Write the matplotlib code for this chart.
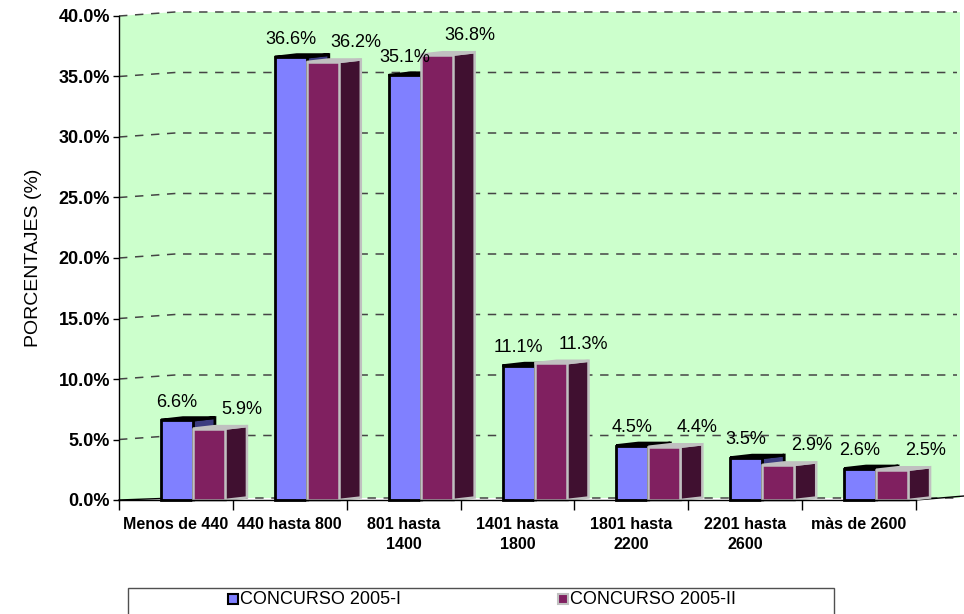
import matplotlib
matplotlib.use("Agg")
import matplotlib.pyplot as plt
from matplotlib.patches import Polygon, Rectangle
from matplotlib.lines import Line2D

plt.rcParams['font.family'] = ['Liberation Sans', 'DejaVu Sans']

categories = ["Menos de 440", "440 hasta 800", "801 hasta\n1400", "1401 hasta\n1800",
              "1801 hasta\n2200", "2201 hasta\n2600", "màs de 2600"]
serie_2005_I = [6.6, 36.6, 35.1, 11.1, 4.5, 3.5, 2.6]
serie_2005_II = [5.9, 36.2, 36.8, 11.3, 4.4, 2.9, 2.5]
series_names = ["CONCURSO 2005-I", "CONCURSO 2005-II"]
yticks = [0, 5, 10, 15, 20, 25, 30, 35, 40]

W, H = 964, 614
fig = plt.figure(figsize=(W / 100, H / 100), dpi=100)
ax_l, ax_r, ax_t, ax_b = 119, 916, 16, 500
ax = fig.add_axes([ax_l / W, (H - ax_b) / H, (ax_r - ax_l) / W, (ax_b - ax_t) / H])
n = len(categories)
ax.set_xlim(0, n)
ax.set_ylim(0, 40)

pxx = (ax_r - ax_l) / n       # px per category unit
pxy = (ax_b - ax_t) / 40.0    # px per percent

def ux(p):
    return p / pxx

def uy(p):
    return p / pxy

# back wall
wall_dx, wall_dy = ux(56), uy(4)
right_edge = ux(960 - ax_l)
green = "#CCFFCC"
wall = Polygon([(0, 0), (0, 40), (wall_dx, 40 + wall_dy), (right_edge, 40 + wall_dy),
                (right_edge, uy(2)), (wall_dx, uy(2))],
               closed=True, facecolor=green, edgecolor='none', zorder=0, clip_on=False)
ax.add_patch(wall)

grid_kw = dict(color="#454545", lw=1.1, ls=(0, (5.5, 5)), zorder=1, clip_on=False)
for t in yticks:
    if t == 0:
        continue
    ax.add_line(Line2D([0, wall_dx, right_edge - ux(3)], [t, t + wall_dy, t + wall_dy], **grid_kw))
# floor back line
ax.add_line(Line2D([wall_dx, right_edge - ux(3)], [uy(2), uy(2)], **grid_kw))
ax.add_line(Line2D([0, wall_dx], [0, uy(2)], color="black", lw=1, zorder=1, clip_on=False))
ax.add_line(Line2D([n, n + ux(48)], [0, uy(4)], color="black", lw=1, zorder=1, clip_on=False))

# bars
fw = ux(32)     # front width
d = ux(22)      # depth in x
h = uy(2.5)     # depth rise
blue_f, blue_s = "#8080FF", "#3C3C80"
pur_f, pur_s = "#802060", "#401030"

def bar3d(x0, v, front, side, edge, lw, z):
    pts_front = [(x0, 0), (x0 + fw, 0), (x0 + fw, v), (x0, v)]
    pts_side = [(x0 + fw, 0), (x0 + fw + d, h), (x0 + fw + d, v + h), (x0 + fw, v)]
    pts_top = [(x0, v), (x0 + fw, v), (x0 + fw + d, v + h), (x0 + d, v + h)]
    ax.add_patch(Polygon(pts_side, closed=True, facecolor=side, edgecolor=edge, lw=lw,
                         zorder=z, joinstyle='miter', clip_on=False))
    ax.add_patch(Polygon(pts_top, closed=True, facecolor=side, edgecolor=edge, lw=lw,
                         zorder=z, joinstyle='miter', clip_on=False))
    ax.add_patch(Polygon(pts_front, closed=True, facecolor=front, edgecolor=edge, lw=lw,
                         zorder=z + 0.1, joinstyle='miter', clip_on=False))

for i in range(n):
    c = i + 0.5
    xb = c - ux(15)
    xp = xb + fw
    bar3d(xb, serie_2005_I[i], blue_f, blue_s, "black", 2.0, 3 + i * 0.01)
    bar3d(xp, serie_2005_II[i], pur_f, pur_s, "#C0C0C0", 1.8, 4 + i * 0.01)
    ax.annotate(f"{serie_2005_I[i]:.1f}%", xy=(xb + fw / 2, serie_2005_I[i]),
                xytext=(0, 18), textcoords='offset pixels', ha='center', va='center',
                fontsize=13, zorder=10, annotation_clip=False)
    ax.annotate(f"{serie_2005_II[i]:.1f}%", xy=(xp + fw / 2, serie_2005_II[i]),
                xytext=(33, 19), textcoords='offset pixels', ha='center', va='center',
                fontsize=13, zorder=10, annotation_clip=False)

# axes styling
for s in ['top', 'right']:
    ax.spines[s].set_visible(False)
ax.spines['left'].set_linewidth(1)
ax.spines['bottom'].set_linewidth(1)
ax.spines['left'].set_zorder(6)
ax.spines['bottom'].set_zorder(6)
ax.patch.set_visible(False)

ax.set_yticks(yticks)
ax.set_yticklabels([f"{t:.1f}%" for t in yticks], fontsize=13, fontweight='bold')
ax.tick_params(axis='y', direction='out', length=4.5, width=1, pad=2)

ax.set_xticks(range(n + 1))
ax.set_xticklabels([])
ax.set_xticks([i + 0.5 for i in range(n)], minor=True)
ax.set_xticklabels(categories, minor=True, fontsize=11.5, fontweight='bold', linespacing=1.45)
ax.tick_params(axis='x', which='major', direction='out', length=7, width=1)
ax.tick_params(axis='x', which='minor', length=0, pad=12)

ax.set_ylabel("PORCENTAJES (%)", fontsize=14, labelpad=12)

# legend (manual)
fig.add_artist(Rectangle((128 / W, -0.05), (834 - 128) / W, 0.05 + (H - 588) / H,
                         transform=fig.transFigure, facecolor='white', edgecolor='#505050',
                         lw=1, clip_on=False))
leg_y = (H - 599) / H
for xm, col, ec, name in [(228, blue_f, "black", series_names[0]),
                          (558, pur_f, "#C0C0C0", series_names[1])]:
    fig.add_artist(Rectangle((xm / W, (H - 604) / H), 10 / W, 10 / H,
                             transform=fig.transFigure, facecolor=col, edgecolor=ec, lw=1.5))
    fig.text((xm + 12) / W, leg_y, name, fontsize=13, va='center', ha='left')

fig.savefig("out.png", dpi=100)
